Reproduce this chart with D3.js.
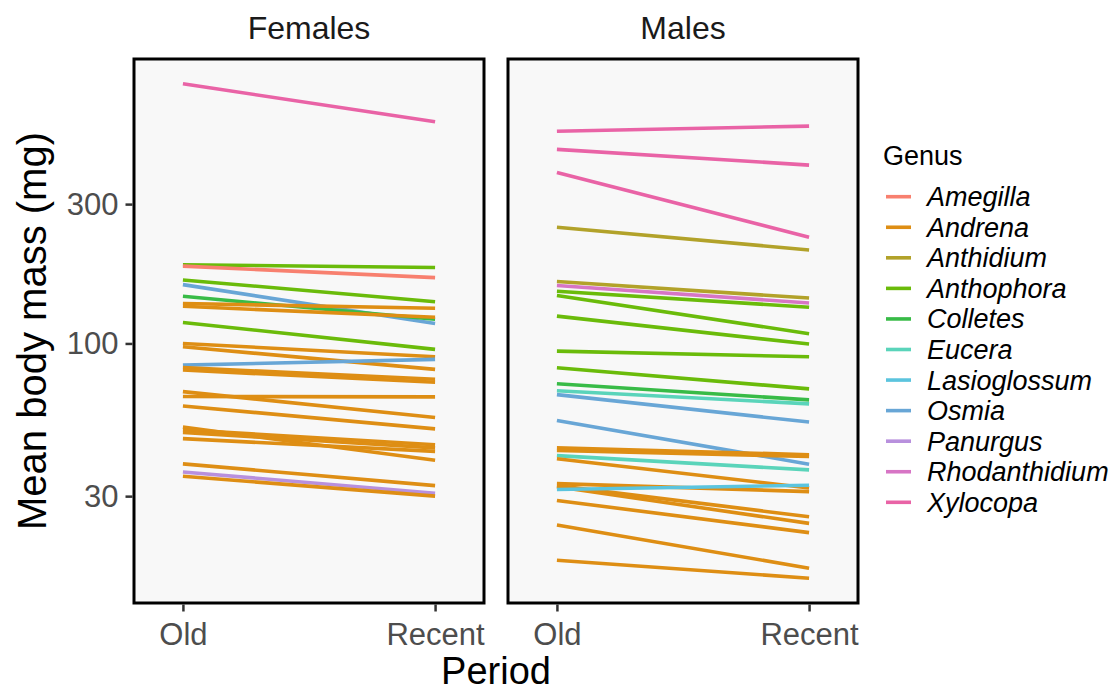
<!DOCTYPE html>
<html>
<head>
<meta charset="utf-8">
<script src="https://cdn.jsdelivr.net/npm/d3@7"></script>
<style>
    body { margin: 0; background: #fff; }
    svg text { font-family: "Liberation Sans", Arial, Helvetica, sans-serif; }
</style>
</head>
<body>
<svg id="chart" width="1111" height="693"></svg>
<script>
// genus levels and their colours
const genera = ["Amegilla", "Andrena", "Anthidium", "Anthophora", "Colletes", "Eucera",
    "Lasioglossum", "Osmia", "Panurgus", "Rhodanthidium", "Xylocopa"];
const genusColors = ["#F8806F", "#DE8E14", "#B2A22A", "#6ABB0A", "#38BB47", "#5AD4BA",
    "#5BC4DE", "#68A6D6", "#B890DD", "#D775C5", "#E963A6"];

const periods = ["Old", "Recent"];
const panels = ["Females", "Males"];
const yTicks = [30, 100, 300];

// Females: one line per species (mg)
const femaleGenus = ["Xylocopa", "Anthophora", "Amegilla", "Anthophora", "Osmia", "Colletes",
    "Andrena", "Andrena", "Anthophora", "Andrena", "Andrena", "Osmia", "Andrena", "Andrena",
    "Andrena", "Andrena", "Andrena", "Andrena", "Andrena", "Andrena", "Andrena", "Andrena",
    "Panurgus", "Andrena"];
const femaleOld = [775, 186, 184, 165, 159, 145, 137, 134, 118, 100, 97.4, 84.3, 82.7, 81.1,
    68.4, 65.8, 61.1, 51.7, 50.6, 49.6, 47.2, 38.7, 36.3, 35.1];
const femaleRecent = [574, 182, 168, 139, 117, 121, 132, 123, 95.4, 90, 81.5, 88.2, 75.4, 73.6,
    55.8, 65.6, 51.0, 39.8, 45.0, 43.9, 42.7, 32.6, 30.7, 30.0];

// Males
const maleGenus = ["Xylocopa", "Xylocopa", "Xylocopa", "Anthidium", "Anthidium", "Rhodanthidium",
    "Anthophora", "Anthophora", "Anthophora", "Anthophora", "Anthophora", "Colletes", "Eucera",
    "Osmia", "Osmia", "Andrena", "Andrena", "Eucera", "Andrena", "Andrena", "Andrena", "Andrena",
    "Lasioglossum", "Andrena", "Andrena", "Andrena"];
const maleOld = [533, 462, 385, 250, 163, 158, 151, 146, 124, 94.1, 82.6, 72.8, 68.9, 66.8, 54.5,
    43.9, 43.0, 41.3, 40.3, 33.1, 32.6, 32.3, 31.6, 29.0, 23.9, 18.1];
const maleRecent = [555, 408, 231, 209, 143, 137.5, 133, 108, 99.5, 90, 69.9, 64.1, 62.1, 53.8, 38.6,
    41.6, 41.0, 36.9, 32.0, 31.1, 25.5, 24.2, 32.7, 22.5, 17.0, 15.7];

class FacetSlopeVis {

    constructor(_parentElement) {
        this.parentElement = _parentElement;
        this.initVis();
    }

    initVis() {
        let vis = this;

        vis.svg = d3.select("#" + vis.parentElement);

        vis.panelTop = 59;
        vis.panelBottom = 603;
        vis.panelLeft = [134, 508];
        vis.panelWidth = 350;

        vis.color = d3.scaleOrdinal().domain(genera).range(genusColors);

        vis.wrangleData();
    }

    wrangleData() {
        let vis = this;

        const build = (g, o, r) => g.map((d, i) => ({ genus: d, values: [o[i], r[i]] }));
        vis.displayData = [
            build(femaleGenus, femaleOld, femaleRecent),
            build(maleGenus, maleOld, maleRecent)
        ];

        // log scale with ggplot style 5% expansion
        let all = femaleOld.concat(femaleRecent, maleOld, maleRecent);
        let lo = Math.log10(d3.min(all)), hi = Math.log10(d3.max(all));
        let pad = (hi - lo) * 0.05;
        vis.y = d3.scaleLog()
            .domain([Math.pow(10, lo - pad), Math.pow(10, hi + pad)])
            .range([vis.panelBottom, vis.panelTop]);

        vis.updateVis();
    }

    updateVis() {
        let vis = this;

        panels.forEach((name, p) => {
            let left = vis.panelLeft[p];
            let x = d3.scalePoint().domain(periods)
                .range([left, left + vis.panelWidth]).padding(0.194);

            let g = vis.svg.append("g");

            g.append("rect")
                .attr("x", left).attr("y", vis.panelTop)
                .attr("width", vis.panelWidth).attr("height", vis.panelBottom - vis.panelTop)
                .attr("fill", "#F8F8F8");

            let line = d3.line().x((d, i) => x(periods[i])).y(d => vis.y(d));

            g.selectAll(".slope")
                .data(vis.displayData[p])
                .enter().append("path")
                .attr("class", "slope")
                .attr("d", d => line(d.values))
                .attr("fill", "none")
                .attr("stroke", d => vis.color(d.genus))
                .attr("stroke-width", 3.6);

            g.append("rect")
                .attr("x", left).attr("y", vis.panelTop)
                .attr("width", vis.panelWidth).attr("height", vis.panelBottom - vis.panelTop)
                .attr("fill", "none").attr("stroke", "#000").attr("stroke-width", 3);

            // strip label
            g.append("text")
                .attr("x", left + vis.panelWidth / 2).attr("y", 39)
                .attr("text-anchor", "middle")
                .attr("font-size", 32).attr("fill", "#1A1A1A")
                .text(name);

            // x axis
            let xAxis = g.append("g")
                .attr("transform", `translate(0,${vis.panelBottom + 1.5})`)
                .call(d3.axisBottom(x).tickSize(7).tickPadding(11));
            xAxis.select(".domain").remove();
            xAxis.selectAll("line").attr("stroke", "#333").attr("stroke-width", 2.5);
            xAxis.selectAll("text").attr("font-size", 31).attr("fill", "#4D4D4D");

            if (p === 0) {
                let yAxis = g.append("g")
                    .attr("transform", `translate(${left - 1.5},0)`)
                    .call(d3.axisLeft(vis.y).tickValues(yTicks).tickFormat(d3.format("d"))
                        .tickSize(7).tickPadding(7));
                yAxis.select(".domain").remove();
                yAxis.selectAll("line").attr("stroke", "#333").attr("stroke-width", 2.5);
                yAxis.selectAll("text").attr("font-size", 31).attr("fill", "#4D4D4D");
            }
        });

        // axis titles
        vis.svg.append("text")
            .attr("x", (vis.panelLeft[0] + vis.panelLeft[1] + vis.panelWidth) / 2)
            .attr("y", 684)
            .attr("text-anchor", "middle")
            .attr("font-size", 38)
            .text("Period");

        vis.svg.append("text")
            .attr("transform", `translate(46,${(vis.panelTop + vis.panelBottom) / 2}) rotate(-90)`)
            .attr("text-anchor", "middle")
            .attr("font-size", 40)
            .text("Mean body mass (mg)");

        // legend
        let legend = vis.svg.append("g").attr("transform", "translate(883,0)");
        legend.append("text")
            .attr("x", 0).attr("y", 165)
            .attr("font-size", 27)
            .text("Genus");

        let items = legend.selectAll(".key")
            .data(genera)
            .enter().append("g")
            .attr("class", "key")
            .attr("transform", (d, i) => `translate(0,${196.7 + i * 30.56})`);

        items.append("line")
            .attr("x1", 3).attr("x2", 28)
            .attr("stroke", d => vis.color(d))
            .attr("stroke-width", 3.6);

        items.append("text")
            .attr("x", 44).attr("dy", "0.35em")
            .attr("font-size", 27)
            .attr("font-style", "italic")
            .text(d => d);
    }
}

new FacetSlopeVis("chart");
</script>
</body>
</html>
